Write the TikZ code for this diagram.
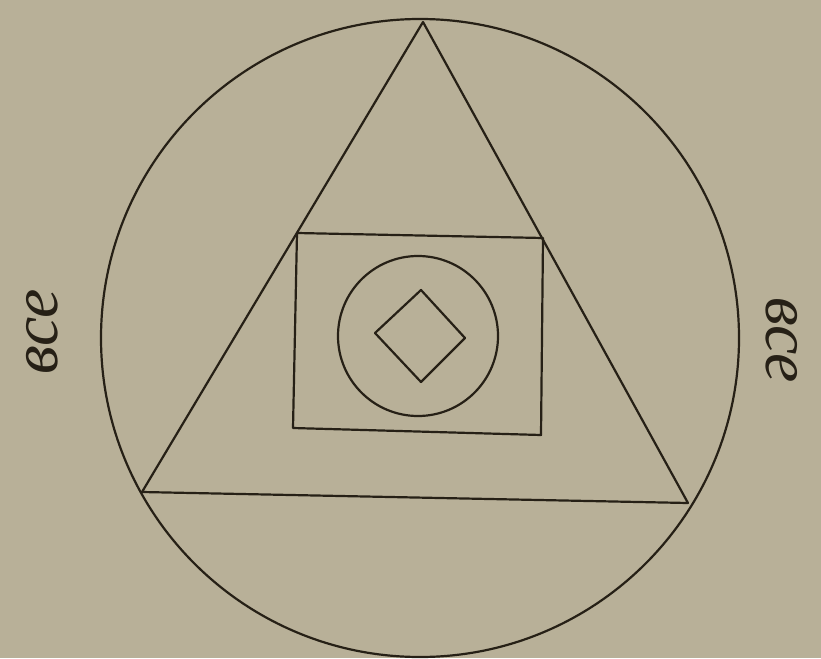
\documentclass[tikz,border=0pt]{standalone}
\usepackage{fontspec}
\setmainfont{Liberation Serif}
\definecolor{paper}{RGB}{184,176,152}
\definecolor{ink}{RGB}{38,32,22}
\begin{document}
\begin{tikzpicture}[x=1pt,y=-1pt,
  inkline/.style={draw=ink,line width=2.2pt,line join=round},
  lbl/.style={text=ink,font=\itshape\fontsize{66}{66}\selectfont,inner sep=0pt}]
\fill[paper] (0,0) rectangle (821,658);
\useasboundingbox (0,0) rectangle (821,658);
% outer circle
\node[inkline,circle,minimum size=638pt,inner sep=0pt] (outer) at (420,338) {};
% triangle
\coordinate (ta) at (423,22);
\coordinate (tb) at (142,492);
\coordinate (tc) at (688,503);
\draw[inkline] (ta) -- (tb) -- (tc) -- cycle;
% rectangle
\coordinate (r1) at (297,233);
\coordinate (r2) at (543,238);
\coordinate (r3) at (541,435);
\coordinate (r4) at (293,428);
\draw[inkline] (r1) -- (r2) -- (r3) -- (r4) -- cycle;
% inner circle
\node[inkline,circle,minimum size=160pt,inner sep=0pt] (inner) at (418,336) {};
% diamond
\coordinate (d1) at (421,290);
\coordinate (d2) at (465,338);
\coordinate (d3) at (421,382);
\coordinate (d4) at (375,333);
\draw[inkline] (d1) -- (d2) -- (d3) -- (d4) -- cycle;
% labels
\node[lbl,rotate=90] (left) at (42,332) {все};
\node[lbl,rotate=-90] (right) at (782,340) {все};
\end{tikzpicture}
\end{document}
